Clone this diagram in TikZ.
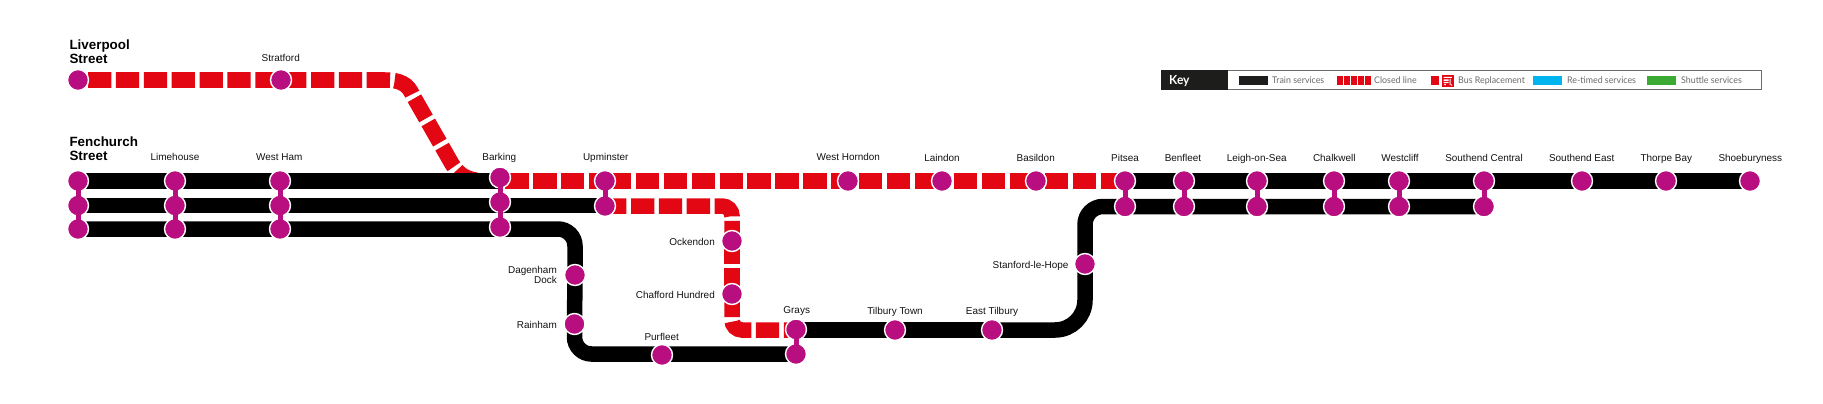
\documentclass[tikz,border=0pt]{standalone}
\usepackage{fontspec}
\setmainfont{Liberation Sans}
\newfontfamily\keyfont[FakeStretch=0.96]{Lato}
\definecolor{stn}{HTML}{B80E80}
\definecolor{redl}{HTML}{E30613}
\definecolor{inkt}{HTML}{111111}
\definecolor{keyhead}{HTML}{1D1D1B}
\definecolor{keygrey}{HTML}{6B6B6B}
\definecolor{keyblue}{HTML}{00B5EF}
\definecolor{keygreen}{HTML}{3AAA35}
\tikzset{
  stn/.style={circle,fill=stn,draw=white,line width=1.4pt,minimum size=21pt,inner sep=0pt},
  blk/.style={line width=15.5pt,draw=black,line cap=butt},
  rdl/.style={line width=15.5pt,draw=redl,line cap=butt,dash pattern=on 23.3pt off 4.57pt},
  lnk/.style={line width=5pt,draw=stn,line cap=butt},
  lbl/.style={inner sep=0pt,font=\fontsize{9.95}{10}\selectfont,text=inkt,anchor=base},
  lbr/.style={inner sep=0pt,font=\fontsize{9.95}{10}\selectfont,text=inkt,anchor=base east},
  ttl/.style={inner sep=0pt,font=\fontsize{13.4}{14}\selectfont\bfseries,text=black,anchor=west,align=left},
  ktx/.style={inner sep=0pt,font=\keyfont\fontsize{9.2}{10}\selectfont,text=keygrey,anchor=base west},
  swt/.style={inner sep=0pt,minimum width=29pt,minimum height=9pt,anchor=west}
}
\begin{document}
\begin{tikzpicture}[x=1pt,y=-1pt]
\useasboundingbox (0,0) rectangle (1823,404);
\path
 (78,80) coordinate (lvst) (281,80) coordinate (strat)
 (78,181) coordinate (fen1) (78,205.5) coordinate (fen2) (78,229) coordinate (fen3)
 (175,181) coordinate (lim1) (175,205.5) coordinate (lim2) (175,229) coordinate (lim3)
 (280,181) coordinate (wh1) (280,205.5) coordinate (wh2) (280,229) coordinate (wh3)
 (500,177.5) coordinate (bar1) (500,202) coordinate (bar2) (500,227) coordinate (bar3)
 (605,181) coordinate (upm1) (605,206) coordinate (upm2)
 (848,181) coordinate (wdn) (942,181) coordinate (lai) (1036,181) coordinate (bas)
 (1125,181) coordinate (pit1) (1125,206.5) coordinate (pit2)
 (1184,181) coordinate (ben1) (1184,206.5) coordinate (ben2)
 (1257,181) coordinate (lei1) (1257,206.5) coordinate (lei2)
 (1334,181) coordinate (cha1) (1334,206.5) coordinate (cha2)
 (1399,181) coordinate (wes1) (1399,206.5) coordinate (wes2)
 (1484,181) coordinate (sce1) (1484,206.5) coordinate (sce2)
 (1582,181) coordinate (sea) (1666,181) coordinate (tho) (1750,181) coordinate (sho)
 (732,241) coordinate (ock) (732,294) coordinate (caf)
 (575,275) coordinate (dag) (574.5,324) coordinate (rai) (662,355) coordinate (pur)
 (796,329.5) coordinate (gra1) (796,354) coordinate (gra2)
 (895,330) coordinate (til) (992,330) coordinate (eti) (1085,264) coordinate (sta);
% red lines
\draw[rdl,dash phase=17.83pt] (lvst) -- (strat) -- (385,80) .. controls (400,80) and (408,84) .. (412.6,95) -- (452,164) .. controls (460,177) and (470,181) .. (488,181) -- (bar1 |- fen1);
\draw[rdl,dash phase=22.44pt] (bar1 |- fen1) -- (upm1);
\draw[rdl,dash phase=24.77pt] (upm1) -- (wdn);
\draw[rdl,dash phase=16.87pt] (wdn) -- (lai);
\draw[rdl,dash phase=15.77pt] (lai) -- (bas);
\draw[rdl,dash phase=18.87pt] (bas) -- (pit1);
\draw[rdl,dash phase=1.87pt,rounded corners=10pt] (upm2) -| (ock);
\draw[rdl,dash phase=0.6pt] (ock) -- (caf);
\draw[rdl,dash phase=0.2pt,rounded corners=10pt] (caf) |- (gra1 |- til);
% black lines
\draw[blk] (fen1) -- (bar1 |- fen1);
\draw[blk] (fen2) -- (upm2 |- fen2);
\draw[blk,rounded corners=17pt] (fen3) -| (dag);
\draw[blk] (dag) -- (rai);
\draw[blk,rounded corners=17pt] (rai) |- (gra2);
\draw[blk] (gra1 |- til) -- (eti);
\draw[blk,rounded corners=30pt] (eti) -| (sta);
\draw[blk,rounded corners=18pt] (sta) |- (sce2);
\draw[blk] (pit1) -- (sho);
% station discs
\foreach \s in {lvst,strat,fen1,fen2,fen3,lim1,lim2,lim3,wh1,wh2,wh3,bar1,bar2,bar3,upm1,upm2,wdn,lai,bas,pit1,pit2,ben1,ben2,lei1,lei2,cha1,cha2,wes1,wes2,sce1,sce2,sea,tho,sho,ock,caf,dag,rai,pur,gra1,gra2,til,eti,sta}
  \node[stn] (n\s) at (\s) {};
% interchange links
\draw[lnk] (nfen1.center) -- (nfen3.center);
\draw[lnk] (nlim1.center) -- (nlim3.center);
\draw[lnk] (nwh1.center) -- (nwh3.center);
\draw[lnk] (nbar1.center) -- (nbar3.center);
\draw[lnk] (nupm1.center) -- (nupm2.center);
\draw[lnk] (ngra1.center) -- (ngra2.center);
\draw[lnk] (npit1.center) -- (npit2.center);
\draw[lnk] (nben1.center) -- (nben2.center);
\draw[lnk] (nlei1.center) -- (nlei2.center);
\draw[lnk] (ncha1.center) -- (ncha2.center);
\draw[lnk] (nwes1.center) -- (nwes2.center);
\draw[lnk] (nsce1.center) -- (nsce2.center);
% titles
\node[ttl] (tlv) at (69.3,52) {Liverpool\\Street};
\node[ttl] (tfc) at (69.3,148.5) {Fenchurch\\Street};
% labels
\node[lbl] (l1) at (280.7,61.2) {Stratford};
\node[lbl] (l2) at (175,160.8) {Limehouse};
\node[lbl] (l3) at (279.3,160.8) {West Ham};
\node[lbl] (l4) at (499.3,160.8) {Barking};
\node[lbl] (l5) at (605.7,160.8) {Upminster};
\node[lbl] (l6) at (848.3,160.8) {West Horndon};
\node[lbl] (l7) at (942,161.5) {Laindon};
\node[lbl] (l8) at (1035.7,161.5) {Basildon};
\node[lbl] (l9) at (1125,161.5) {Pitsea};
\node[lbl] (l10) at (1183,161.5) {Benfleet};
\node[lbl] (l11) at (1256.7,161.5) {Leigh-on-Sea};
\node[lbl] (l12) at (1334.3,161.5) {Chalkwell};
\node[lbl] (l13) at (1400,161.5) {Westcliff};
\node[lbl] (l14) at (1484,161.5) {Southend Central};
\node[lbl] (l15) at (1581.7,161.5) {Southend East};
\node[lbl] (l16) at (1666.3,161.5) {Thorpe Bay};
\node[lbl] (l17) at (1750.3,161.5) {Shoeburyness};
\node[lbl] (l18) at (796.7,313.2) {Grays};
\node[lbl] (l19) at (895,314.2) {Tilbury Town};
\node[lbl] (l20) at (992,314.2) {East Tilbury};
\node[lbl] (l21) at (661.7,340.5) {Purfleet};
\node[lbr] (l22) at (715,245.2) {Ockendon};
\node[lbr] (l23) at (715,298) {Chafford Hundred};
\node[lbr] (l24) at (557,328) {Rainham};
\node[lbr] (l25) at (1068.7,268.6) {Stanford-le-Hope};
\node[inner sep=0pt,font=\fontsize{9.95}{10}\selectfont,text=inkt,anchor=east,align=right] (l26) at (557,275.3) {Dagenham\\Dock};
% key
\node[draw=keygrey,line width=0.9pt,fill=white,inner sep=0pt,minimum width=600pt,minimum height=19pt,anchor=west] (kbox) at (1160.7,80.2) {};
\node[fill=keyhead,inner sep=0pt,minimum width=67pt,minimum height=19.5pt,anchor=west] (khead) at (1160.5,80.2) {};
\node[inner sep=0pt,font=\keyfont\fontsize{12.5}{12}\selectfont\bfseries,text=white,anchor=base west] (ktitle) at (1169,84.8) {Key};
\node[swt,fill=keyhead] (k1) at (1238.7,80.5) {};
\node[ktx] (kt1) at (1272,84) {Train services};
\foreach \i/\x in {0/1337,1/1344,2/1351,3/1358,4/1365}
  \node[swt,fill=redl,minimum width=5.6pt] (k2\i) at (\x,80.5) {};
\node[ktx] (kt2) at (1374,84) {Closed line};
\node[swt,fill=redl,minimum width=8pt] (k3) at (1431,80.5) {};
\node[fill=redl,inner sep=0pt,minimum width=11.5pt,minimum height=12pt,anchor=west] (kbus) at (1442,80.7) {};
\fill[white] (1443.5,76.8) rectangle (1451.8,78) (1443.5,79.5) rectangle (1448.5,81) (1449.5,79) rectangle (1450.6,85) (1443.5,82) rectangle (1448.5,83.2);
\fill[white] (1445,84.6) circle (.9) (1451.6,85) circle (.7);
\node[ktx] (kt3) at (1458,84) {Bus Replacement};
\node[swt,fill=keyblue] (k4) at (1533,80.5) {};
\node[ktx] (kt4) at (1567,84) {Re-timed services};
\node[swt,fill=keygreen] (k5) at (1647,80.5) {};
\node[ktx] (kt5) at (1681,84) {Shuttle services};
\end{tikzpicture}
\end{document}
